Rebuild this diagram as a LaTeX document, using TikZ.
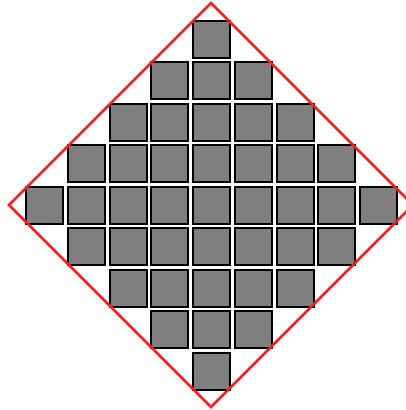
\documentclass[tikz,border=0pt]{standalone}
\usepackage{xcolor}
\definecolor{cellgray}{HTML}{7F7F7F}
\definecolor{rimred}{HTML}{EC2227}

\begin{document}
\begin{tikzpicture}[
  x=1pt, y=-1pt,
  cellbox/.style={draw=black, fill=cellgray, line width=2pt},
  rim/.style={rimred, line width=2.6pt, line join=miter}
]

\useasboundingbox (0,0) rectangle (405,410);

%% ==== gray cells, |i|+|j| <= 4 =======================================
\foreach \j in {-4,...,4}
  \foreach \i in {-4,...,4} {
    \pgfmathtruncatemacro{\dist}{abs(\i)+abs(\j)}
    \ifnum\dist<5
      \draw[cellbox] ({211.5+41.75*\i-18.5},{205+41.5*\j-18.5})
        rectangle ++(37,37);
    \fi
  }

%% ==== red diamond ===================================================
\coordinate (top) at (211,3);
\coordinate (lft) at (9,205);
\coordinate (bot) at (211,407);
\coordinate (rgt) at (413,205);
\draw[rim] (top) -- (lft) -- (bot) -- (rgt) -- cycle;

\end{tikzpicture}
\end{document}
